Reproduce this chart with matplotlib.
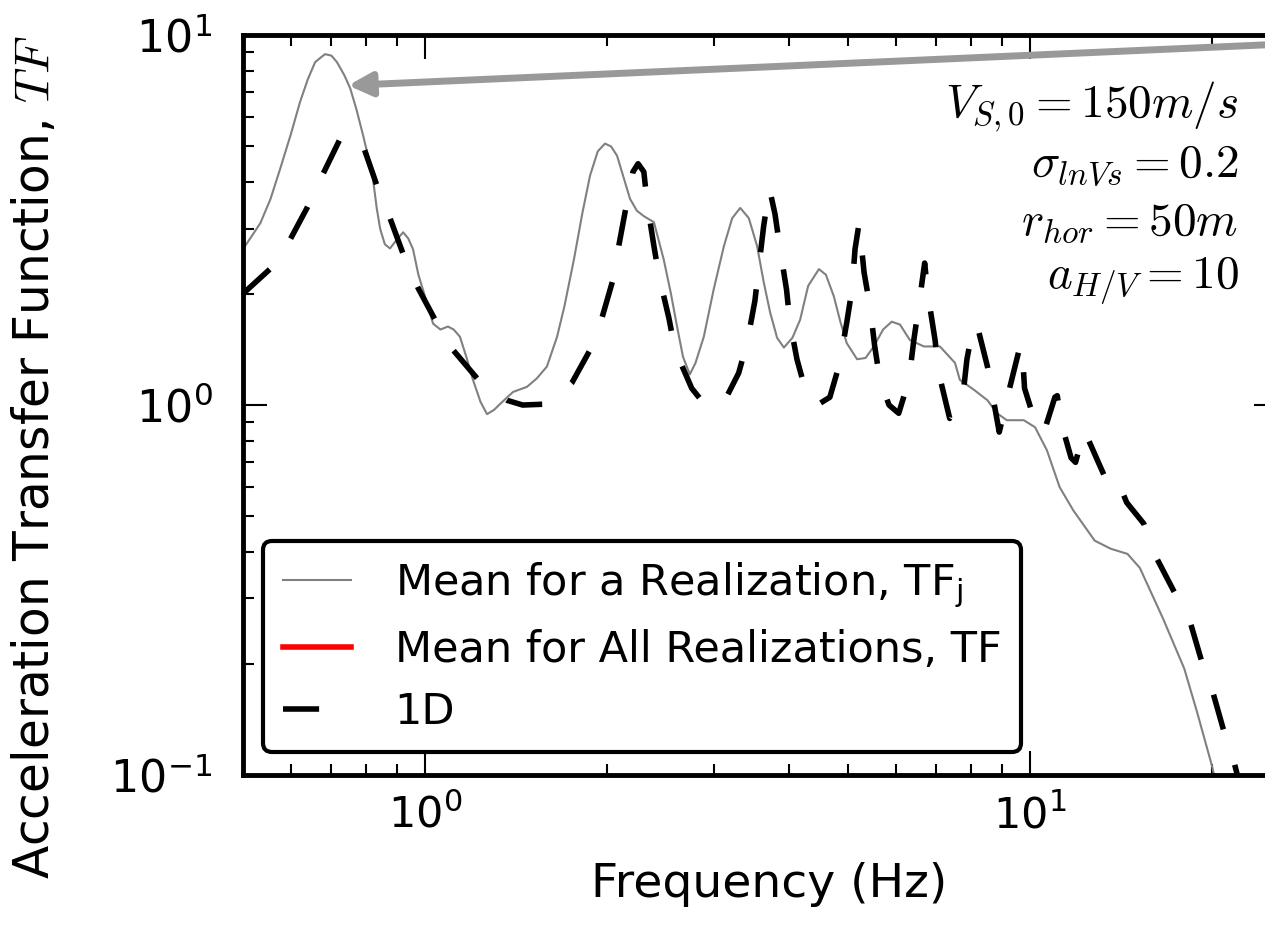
import matplotlib
matplotlib.use('Agg')
import matplotlib.pyplot as plt
from matplotlib.ticker import NullFormatter

plt.rcParams['font.family'] = ['DejaVu Sans']
plt.rcParams['mathtext.fontset'] = 'dejavusans'
plt.rcParams['axes.unicode_minus'] = False

# mean TF of one realization (grey curve)
freq_real = [0.50, 0.504, 0.534, 0.555, 0.576, 0.60, 0.621, 0.640, 0.658, 0.683,
             0.70, 0.715, 0.735, 0.752, 0.770, 0.790, 0.805, 0.820, 0.832, 0.843,
             0.858, 0.875, 0.898, 0.920, 0.938, 0.955, 0.975, 1.008, 1.031, 1.06,
             1.091, 1.115, 1.142, 1.17, 1.20, 1.235, 1.266, 1.30, 1.33, 1.398,
             1.474, 1.53, 1.59, 1.653, 1.70, 1.763, 1.82, 1.874, 1.93, 1.984,
             2.03, 2.077, 2.182, 2.24, 2.30, 2.39, 2.48, 2.55, 2.61, 2.67,
             2.74, 2.80, 2.89, 3.0, 3.12, 3.22, 3.32, 3.43, 3.54, 3.63,
             3.72, 3.82, 3.92, 4.05, 4.17, 4.30, 4.48, 4.60, 4.74, 4.86,
             4.98, 5.18, 5.35, 5.52, 5.72, 5.91, 6.1, 6.33, 6.68, 7.10,
             7.52, 7.66, 8.08, 8.51, 8.82, 9.16, 9.77, 10.2, 10.67, 11.2,
             11.8, 12.8, 13.6, 14.5, 15.2, 16.6, 18.0, 18.9, 20.0, 21.0]
tf_real = [2.62, 2.69, 3.10, 3.6, 4.35, 5.4, 6.58, 7.6, 8.45, 8.88,
           8.8, 8.45, 7.8, 7.18, 6.3, 5.35, 4.7, 4.09, 3.4, 2.99,
           2.72, 2.65, 2.80, 2.93, 2.82, 2.64, 2.25, 1.88, 1.66, 1.60,
           1.63, 1.60, 1.53, 1.35, 1.17, 1.02, 0.945, 0.97, 1.006, 1.085,
           1.12, 1.18, 1.27, 1.53, 1.85, 2.48, 3.3, 4.17, 4.85, 5.09,
           5.0, 4.72, 3.61, 3.35, 3.24, 3.12, 2.48, 2.0, 1.63, 1.35,
           1.21, 1.30, 1.53, 2.05, 2.69, 3.2, 3.41, 3.2, 2.69, 2.15,
           1.78, 1.52, 1.43, 1.52, 1.70, 2.1, 2.33, 2.25, 1.97, 1.68,
           1.47, 1.33, 1.34, 1.44, 1.60, 1.68, 1.65, 1.50, 1.44, 1.44,
           1.30, 1.17, 1.10, 1.03, 0.951, 0.91, 0.91, 0.871, 0.755, 0.60,
           0.519, 0.430, 0.409, 0.396, 0.363, 0.265, 0.194, 0.148, 0.106, 0.075]

# 1D analysis (dashed black curve)
freq_1d = [0.50, 0.554, 0.594, 0.638, 0.676, 0.724, 0.746, 0.765, 0.790, 0.833,
           0.875, 0.920, 0.974, 1.047, 1.112, 1.233, 1.366, 1.45, 1.59, 1.653,
           1.75, 1.888, 1.961, 2.053, 2.093, 2.157, 2.207, 2.25, 2.30, 2.33,
           2.39, 2.437, 2.53, 2.59, 2.76, 2.89, 3.02, 3.15, 3.30, 3.41,
           3.51, 3.56, 3.63, 3.71, 3.79, 3.86, 3.96, 4.01, 4.12, 4.28,
           4.45, 4.67, 4.85, 4.98, 5.08, 5.14, 5.22, 5.32, 5.44, 5.54,
           5.65, 5.85, 6.07, 6.31, 6.43, 6.55, 6.70, 6.78, 6.97, 7.07,
           7.37, 7.74, 7.87, 8.07, 8.14, 8.23, 8.51, 8.9, 9.27, 9.6,
           9.7, 9.8, 10.2, 10.4, 10.6, 11.0, 11.1, 11.3, 11.7, 11.9,
           12.3, 13.0, 13.3, 13.66, 14.0, 14.46, 15.43, 16.2, 17.3, 18.4,
           19.2, 20.1, 20.9, 21.8, 22.6]
tf_1d = [2.0, 2.33, 2.74, 3.41, 4.17, 5.25, 5.45, 5.35, 5.02, 3.91,
         3.20, 2.56, 2.07, 1.66, 1.41, 1.155, 1.03, 1.0, 1.006, 1.05,
         1.15, 1.44, 1.72, 2.23, 2.72, 3.54, 4.27, 4.49, 4.27, 3.50,
         2.69, 2.23, 1.72, 1.41, 1.11, 1.01, 0.99, 1.05, 1.22, 1.48,
         1.91, 2.33, 3.05, 3.85, 3.28, 2.67, 2.05, 1.68, 1.33, 1.06,
         1.0, 1.05, 1.30, 1.67, 2.05, 2.64, 3.1, 2.28, 1.85, 1.44,
         1.17, 1.0, 0.95, 1.17, 1.50, 1.85, 2.42, 2.0, 1.50, 1.22,
         0.92, 1.04, 1.33, 1.65, 1.66, 1.58, 1.27, 0.845, 1.12, 1.41,
         1.46, 1.11, 0.90, 0.845, 0.866, 1.05, 1.06, 0.88, 0.72, 0.70,
         0.855, 0.696, 0.64, 0.658, 0.62, 0.545, 0.478, 0.386, 0.314, 0.26,
         0.205, 0.166, 0.1325, 0.107, 0.085]

legend_labels = ['Mean for a Realization, TF$_\\mathregular{j}$',
                 'Mean for All Realizations, TF',
                 '1D']
param_lines = ['$V_{S,0}=150m/s$',
               '$\\sigma_{lnVs}=0.2$',
               '$r_{hor}=50m$',
               '$a_{H/V}=10$']

fig = plt.figure(figsize=(12.65, 9.35), dpi=100)
ax = fig.add_axes([0.1921, 0.1711, 0.818, 0.7914])

ax.plot(freq_real, tf_real, color='0.5', lw=1.5, label=legend_labels[0])
ax.plot([], [], color='red', lw=4, label=legend_labels[1])
ax.plot(freq_1d, tf_1d, color='black', lw=4, linestyle=(0, (6.5, 6.7)),
        label=legend_labels[2])

ax.set_xscale('log')
ax.set_yscale('log')
ax.set_xlim(0.5, 25.7)
ax.set_ylim(0.1, 10)

for s in ax.spines.values():
    s.set_linewidth(3.5)
ax.tick_params(which='both', direction='in', top=True, right=True, width=1.5)
ax.tick_params(which='major', length=17)
ax.tick_params(which='minor', length=8)
ax.tick_params(axis='y', which='major', labelsize=32, pad=22)
ax.tick_params(axis='x', which='major', labelsize=31, pad=14)
ax.xaxis.set_minor_formatter(NullFormatter())
ax.yaxis.set_minor_formatter(NullFormatter())

ax.set_xlabel('Frequency (Hz)', fontsize=34)
ax.xaxis.set_label_coords(0.508, -0.118)
ax.set_ylabel('Acceleration Transfer Function, $TF$', fontsize=35,
              math_fontfamily='cm')
ax.yaxis.set_label_coords(-0.178, 0.43)

# parameter text, top right
ys = [0.889, 0.808, 0.730, 0.658]
for s, y in zip(param_lines, ys):
    ax.text(0.962, y, s, transform=ax.transAxes, ha='right', va='baseline',
            fontsize=34, math_fontfamily='cm')

ax.annotate('', xy=(0.746, 7.31), xytext=(28, 9.5), annotation_clip=False,
            arrowprops=dict(arrowstyle='-|>,head_length=0.7,head_width=0.35',
                            mutation_scale=20, lw=5, color='0.6',
                            shrinkA=0, shrinkB=0))

leg = ax.legend(loc='lower left', bbox_to_anchor=(0.0195, 0.031), borderaxespad=0,
                fontsize=31, handlelength=1.6, handletextpad=1.0, borderpad=0.45,
                labelspacing=0.45, fancybox=True, framealpha=1)
leg.get_frame().set_edgecolor('black')
leg.get_frame().set_linewidth(3)

fig.savefig('out.png', dpi=100)
